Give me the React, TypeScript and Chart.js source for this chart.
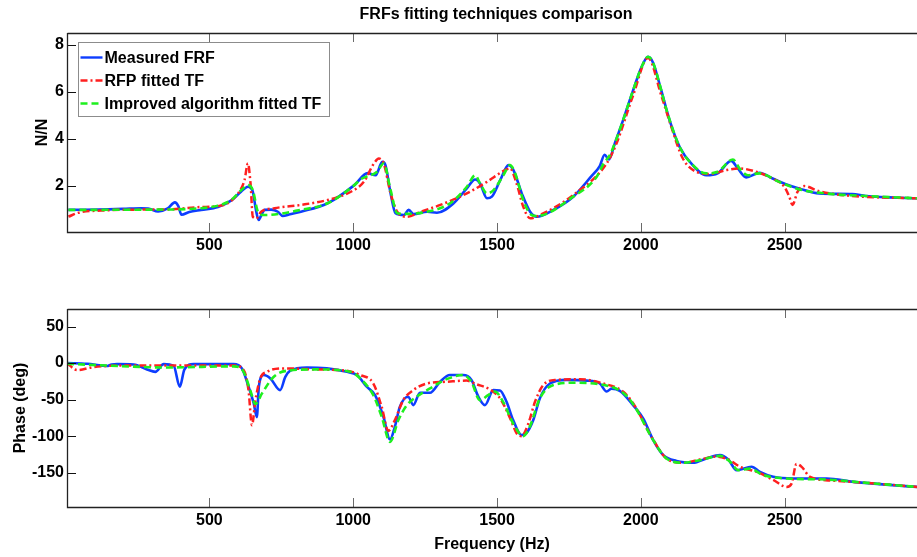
import React, { useEffect, useRef } from 'react';
import { Chart, registerables } from 'chart.js';

Chart.register(...registerables);

// ---------- tick labels ----------
const freqTicks = [500, 1000, 1500, 2000, 2500];
const magTicks = [2, 4, 6, 8];
const phaseTicks = [-150, -100, -50, 0, 50];

// ---------- magnitude (N/N) ----------
const magMeasuredHz = [10, 114, 200, 263, 287, 322, 355, 380, 392, 403, 430, 471, 530, 575, 610, 634, 645, 651, 663, 671, 680, 692, 715, 738, 755, 780, 818, 911, 1004, 1050, 1078, 1101, 1112, 1130, 1147, 1176, 1193, 1210, 1257, 1291, 1349, 1395, 1424, 1441, 1465, 1482, 1511, 1540, 1557, 1586, 1615, 1638, 1696, 1765, 1826, 1857, 1874, 1889, 1909, 1938, 1973, 2002, 2025, 2042, 2071, 2100, 2135, 2175, 2227, 2267, 2314, 2337, 2366, 2412, 2458, 2504, 2550, 2620, 2735, 2782, 2960];
const magMeasured = [0.99, 1.0, 1.03, 1.06, 1.05, 0.92, 1.05, 1.31, 1.15, 0.78, 0.9, 0.99, 1.11, 1.38, 1.76, 1.97, 1.9, 1.76, 0.91, 0.56, 0.75, 0.99, 1.0, 0.91, 0.73, 0.8, 0.91, 1.27, 2.04, 2.55, 2.46, 3.03, 2.89, 1.69, 0.85, 0.77, 0.99, 0.81, 0.91, 0.87, 1.27, 1.9, 2.28, 2.11, 1.48, 1.55, 2.25, 2.89, 2.68, 1.69, 0.91, 0.7, 0.99, 1.55, 2.39, 2.85, 3.33, 3.13, 3.8, 4.79, 6.06, 7.04, 7.49, 7.25, 6.06, 4.79, 3.66, 2.96, 2.46, 2.54, 3.07, 2.75, 2.37, 2.56, 2.32, 2.08, 1.9, 1.69, 1.66, 1.58, 1.48];

const magRfpHz = [10, 45, 124, 250, 357, 471, 540, 600, 622, 634, 643, 651, 663, 680, 726, 818, 911, 992, 1037, 1072, 1089, 1106, 1130, 1153, 1187, 1234, 1303, 1395, 1465, 1528, 1545, 1568, 1591, 1615, 1649, 1765, 1881, 1915, 1973, 2025, 2071, 2106, 2146, 2192, 2239, 2297, 2343, 2400, 2458, 2499, 2516, 2527, 2545, 2568, 2620, 2735, 2960];
const magRfp = [0.7, 0.87, 0.96, 1.0, 1.01, 1.11, 1.17, 1.69, 2.25, 2.96, 2.11, 0.7, 0.63, 0.91, 1.06, 1.2, 1.41, 1.76, 2.18, 2.96, 3.17, 2.96, 1.69, 0.91, 0.7, 0.91, 1.2, 1.69, 2.18, 2.68, 2.75, 2.11, 1.13, 0.63, 0.77, 1.62, 2.96, 3.8, 5.85, 7.44, 5.85, 4.51, 3.17, 2.61, 2.51, 2.68, 2.75, 2.61, 2.32, 1.97, 1.55, 1.2, 1.76, 2.0, 1.78, 1.58, 1.48];

const magImprovedHz = [10, 300, 471, 530, 576, 611, 634, 651, 669, 692, 818, 911, 1004, 1025, 1083, 1106, 1130, 1153, 1187, 1257, 1337, 1395, 1424, 1441, 1465, 1488, 1522, 1545, 1563, 1591, 1620, 1638, 1765, 1846, 1870, 1892, 1909, 1938, 1973, 2002, 2025, 2042, 2071, 2088, 2135, 2181, 2227, 2267, 2320, 2343, 2372, 2412, 2481, 2550, 2666, 2782, 2960];
const magImproved = [0.99, 1.0, 1.06, 1.17, 1.41, 1.83, 2.04, 1.83, 0.91, 0.77, 0.99, 1.27, 2.04, 2.28, 2.61, 2.96, 1.83, 0.85, 0.82, 0.91, 1.27, 1.97, 2.46, 2.11, 1.69, 1.83, 2.46, 2.89, 2.54, 1.41, 0.77, 0.73, 1.55, 2.39, 2.95, 3.31, 3.8, 4.79, 6.06, 7.04, 7.49, 7.25, 6.06, 5.28, 3.66, 2.89, 2.54, 2.61, 3.13, 2.75, 2.46, 2.54, 2.18, 1.86, 1.66, 1.58, 1.48];

// ---------- phase (deg) ----------
const phaseMeasuredHz = [5, 75, 144, 160, 179, 237, 283, 312, 341, 376, 397, 413, 445, 584, 613, 636, 654, 665, 672, 689, 712, 746, 764, 781, 839, 908, 978, 1013, 1047, 1076, 1105, 1128, 1145, 1162, 1191, 1209, 1232, 1267, 1302, 1336, 1382, 1411, 1435, 1458, 1487, 1510, 1533, 1556, 1585, 1602, 1626, 1649, 1684, 1742, 1811, 1857, 1881, 1898, 1927, 1973, 2008, 2043, 2078, 2124, 2182, 2228, 2275, 2304, 2333, 2385, 2414, 2460, 2530, 2646, 2739, 2960];
const phaseMeasured = [0, -1, -4, -2, -1.4, -2, -8.7, -12, -1.4, -4, -32.4, -9, -1.4, -1.4, -7.3, -32, -55, -74, -32, -16.4, -21, -37, -19, -10.5, -6, -7.3, -12, -16.4, -32.4, -44, -73.5, -104.5, -87, -60, -46, -57.5, -40.6, -40.6, -25.6, -16.4, -16.4, -23, -46, -57.5, -37, -37.5, -53, -78, -98.6, -96, -78, -48, -28, -23, -24, -28, -39, -35, -38, -57.5, -75.8, -105.5, -126, -134, -136.5, -130.6, -126, -132, -146.6, -142, -149, -155.7, -158, -158, -162.6, -169.5];

const phaseRfpHz = [5, 40, 98, 237, 584, 619, 636, 648, 660, 677, 700, 758, 874, 978, 1024, 1070, 1099, 1122, 1145, 1174, 1209, 1255, 1325, 1394, 1429, 1475, 1510, 1545, 1568, 1585, 1609, 1632, 1661, 1707, 1788, 1869, 1938, 1973, 2043, 2089, 2147, 2205, 2263, 2304, 2345, 2403, 2460, 2507, 2524, 2541, 2559, 2588, 2669, 2785, 2960];
const phaseRfp = [0, -9.6, -5.5, -3.2, -3.2, -9.6, -37, -85, -51, -21, -12, -7.3, -8.7, -10.5, -16.4, -28, -60, -92.7, -78, -50.7, -37, -28, -25.6, -24, -29, -36, -48, -75, -96, -100, -82.6, -53, -30, -23, -22, -28, -39, -55, -105, -130.6, -136.5, -132, -128, -132, -142, -149, -160, -169.5, -165, -138, -142, -155.7, -161, -164, -169.5];

const phaseImprovedHz = [5, 121, 353, 584, 619, 642, 660, 683, 723, 770, 874, 990, 1024, 1070, 1099, 1128, 1157, 1187, 1220, 1267, 1325, 1382, 1411, 1440, 1469, 1492, 1521, 1556, 1591, 1614, 1649, 1696, 1765, 1857, 1938, 1973, 2043, 2089, 2147, 2205, 2275, 2310, 2339, 2379, 2426, 2507, 2646, 2785, 2960];
const phaseImproved = [-1, -3, -6, -4.5, -12, -37, -56, -41.5, -19, -10.5, -8.7, -12, -21, -44, -73.5, -107.8, -78, -57.5, -46, -34.7, -22, -16.4, -25.6, -50.7, -44, -39, -53, -82.6, -100, -87, -48, -30, -27, -29, -40.6, -56, -105.5, -130.6, -136.5, -133, -127, -135, -146.6, -144.5, -153.4, -158, -159.4, -164, -169.5];

const seriesLabels = ['Measured FRF', 'RFP fitted TF', 'Improved algorithm fitted TF'];

const FONT = "'Liberation Sans', Arial, Helvetica, sans-serif";
const BLUE = '#0d3dff';
const RED = '#ff1f1f';
const GREEN = '#1ef01e';
const RED_DASH = [7, 3, 2, 3];
const GREEN_DASH = [7, 4];

const pts = (xs: number[], ys: number[]) => xs.map((x, i) => ({ x, y: ys[i] }));

function makeDatasets(blue: any[], red: any[], green: any[]) {
  const base = { pointRadius: 0, fill: false, cubicInterpolationMode: 'monotone' as const, borderCapStyle: 'butt' as const };
  return [
    { ...base, label: seriesLabels[0], data: blue, borderColor: BLUE, borderWidth: 2.6, order: 2 },
    { ...base, label: seriesLabels[1], data: red, borderColor: RED, borderWidth: 2.5, borderDash: RED_DASH, order: 1 },
    { ...base, label: seriesLabels[2], data: green, borderColor: GREEN, borderWidth: 2.6, borderDash: GREEN_DASH, order: 0 },
  ];
}

const framePlugin = (yTicks: number[]) => ({
  id: 'frame',
  afterDraw(chart: any) {
    const { ctx, chartArea } = chart;
    const { left, right, top, bottom } = chartArea;
    const xs = chart.scales.x;
    const ys = chart.scales.y;
    ctx.save();
    ctx.lineWidth = 1;
    ctx.strokeStyle = '#6a6a6a';
    ctx.beginPath();
    freqTicks.forEach((v) => {
      const px = Math.round(xs.getPixelForValue(v)) + 0.5;
      ctx.moveTo(px, bottom);
      ctx.lineTo(px, bottom - 9);
      ctx.moveTo(px, top);
      ctx.lineTo(px, top + 9);
    });
    ctx.stroke();
    ctx.strokeStyle = '#111';
    ctx.beginPath();
    yTicks.forEach((v) => {
      const py = Math.round(ys.getPixelForValue(v)) + 0.5;
      ctx.moveTo(left, py);
      ctx.lineTo(left + 9, py);
    });
    ctx.stroke();
    ctx.strokeStyle = '#222';
    ctx.lineWidth = 1.3;
    ctx.beginPath();
    ctx.moveTo(left + 0.5, top + 0.5);
    ctx.lineTo(right, top + 0.5);
    ctx.moveTo(left + 0.5, top);
    ctx.lineTo(left + 0.5, bottom + 0.5);
    ctx.lineTo(right, bottom + 0.5);
    ctx.stroke();
    ctx.restore();
  },
});

const titlePlugin = {
  id: 'mainTitle',
  afterDraw(chart: any) {
    const { ctx, chartArea } = chart;
    ctx.save();
    ctx.font = `bold 16px ${FONT}`;
    ctx.fillStyle = '#000';
    ctx.textAlign = 'center';
    ctx.textBaseline = 'middle';
    ctx.fillText('FRFs fitting techniques comparison', (chartArea.left + chartArea.right) / 2 + 4, 15);
    ctx.restore();
  },
};

const legendPlugin = {
  id: 'boxLegend',
  afterDraw(chart: any) {
    const { ctx, chartArea } = chart;
    const bx = chartArea.left + 11.5;
    const by = chartArea.top + 9.5;
    const bw = 251;
    const bh = 74;
    ctx.save();
    ctx.fillStyle = '#fff';
    ctx.fillRect(bx, by, bw, bh);
    ctx.strokeStyle = '#8c8c8c';
    ctx.lineWidth = 1;
    ctx.strokeRect(bx, by, bw, bh);
    const items = [
      { c: BLUE, d: [] as number[] },
      { c: RED, d: RED_DASH },
      { c: GREEN, d: GREEN_DASH },
    ];
    ctx.font = `bold 16px ${FONT}`;
    ctx.textBaseline = 'middle';
    ctx.textAlign = 'left';
    items.forEach((it, i) => {
      const cy = by + 15 + i * 23;
      ctx.strokeStyle = it.c;
      ctx.lineWidth = 2.4;
      ctx.setLineDash(it.d);
      ctx.beginPath();
      ctx.moveTo(bx + 2, cy);
      ctx.lineTo(bx + 24, cy);
      ctx.stroke();
      ctx.setLineDash([]);
      ctx.fillStyle = '#000';
      ctx.fillText(seriesLabels[i], bx + 26, cy + 1);
    });
    ctx.restore();
  },
};

const plainLabel = (v: any) => String(v);

function xScale(withTitle: boolean, height: number) {
  return {
    type: 'linear' as const,
    position: 'bottom' as const,
    min: 5,
    max: 2960,
    grid: { display: false, drawTicks: false },
    border: { display: false },
    ticks: { font: { family: FONT, size: 16, weight: 'bold' as const }, color: '#000', padding: 4, maxRotation: 0, autoSkip: false, callback: plainLabel },
    title: withTitle
      ? { display: true, text: 'Frequency (Hz)', color: '#000', font: { family: FONT, size: 16, weight: 'bold' as const }, padding: { top: 0, bottom: 3 } }
      : { display: false },
    afterBuildTicks: (s: any) => { s.ticks = freqTicks.map((v) => ({ value: v })); },
    afterFit: (s: any) => { s.height = height; },
  };
}

function yScale(min: number, max: number, ticks: number[], title: string, titlePad: number) {
  return {
    type: 'linear' as const,
    position: 'left' as const,
    min,
    max,
    grid: { display: false, drawTicks: false },
    border: { display: false },
    ticks: { font: { family: FONT, size: 16, weight: 'bold' as const }, color: '#000', padding: 3, autoSkip: false, callback: plainLabel },
    title: { display: true, text: title, color: '#000', font: { family: FONT, size: 16, weight: 'bold' as const }, padding: { top: titlePad, bottom: 0 } },
    afterBuildTicks: (s: any) => { s.ticks = ticks.map((v) => ({ value: v })); },
    afterFit: (s: any) => { s.width = 67; },
  };
}

export default function App() {
  const topRef = useRef<HTMLCanvasElement>(null);
  const botRef = useRef<HTMLCanvasElement>(null);

  useEffect(() => {
    document.body.style.margin = '0';
    const common = {
      responsive: false,
      maintainAspectRatio: false,
      animation: false as const,
      devicePixelRatio: 1,
      events: [] as any[],
      plugins: { legend: { display: false }, tooltip: { enabled: false }, title: { display: false } },
    };
    const top = new Chart(topRef.current!, {
      type: 'line',
      data: {
        datasets: makeDatasets(
          pts(magMeasuredHz, magMeasured),
          pts(magRfpHz, magRfp),
          pts(magImprovedHz, magImproved)
        ) as any,
      },
      options: {
        ...common,
        layout: { padding: { top: 33, left: 0, right: 0, bottom: 0 } },
        scales: {
          x: xScale(false, 30),
          y: yScale(0.05, 8.5, magTicks, 'N/N', 33),
        },
      } as any,
      plugins: [framePlugin(magTicks), legendPlugin, titlePlugin],
    });
    const bot = new Chart(botRef.current!, {
      type: 'line',
      data: {
        datasets: makeDatasets(
          pts(phaseMeasuredHz, phaseMeasured),
          pts(phaseRfpHz, phaseRfp),
          pts(phaseImprovedHz, phaseImproved)
        ) as any,
      },
      options: {
        ...common,
        layout: { padding: { top: 47, left: 0, right: 0, bottom: 0 } },
        scales: {
          x: xScale(true, 50),
          y: yScale(-197, 74, phaseTicks, 'Phase (deg)', 11),
        },
      } as any,
      plugins: [framePlugin(phaseTicks)],
    });
    return () => {
      top.destroy();
      bot.destroy();
    };
  }, []);

  return (
    <div style={{ position: 'absolute', left: 0, top: 0, width: 917, height: 557, background: '#fff', overflow: 'hidden' }}>
      <canvas ref={topRef} width={917} height={262} style={{ position: 'absolute', left: 0, top: 0, width: 917, height: 262, display: 'block' }} />
      <canvas ref={botRef} width={917} height={295} style={{ position: 'absolute', left: 0, top: 262, width: 917, height: 295, display: 'block' }} />
    </div>
  );
}
